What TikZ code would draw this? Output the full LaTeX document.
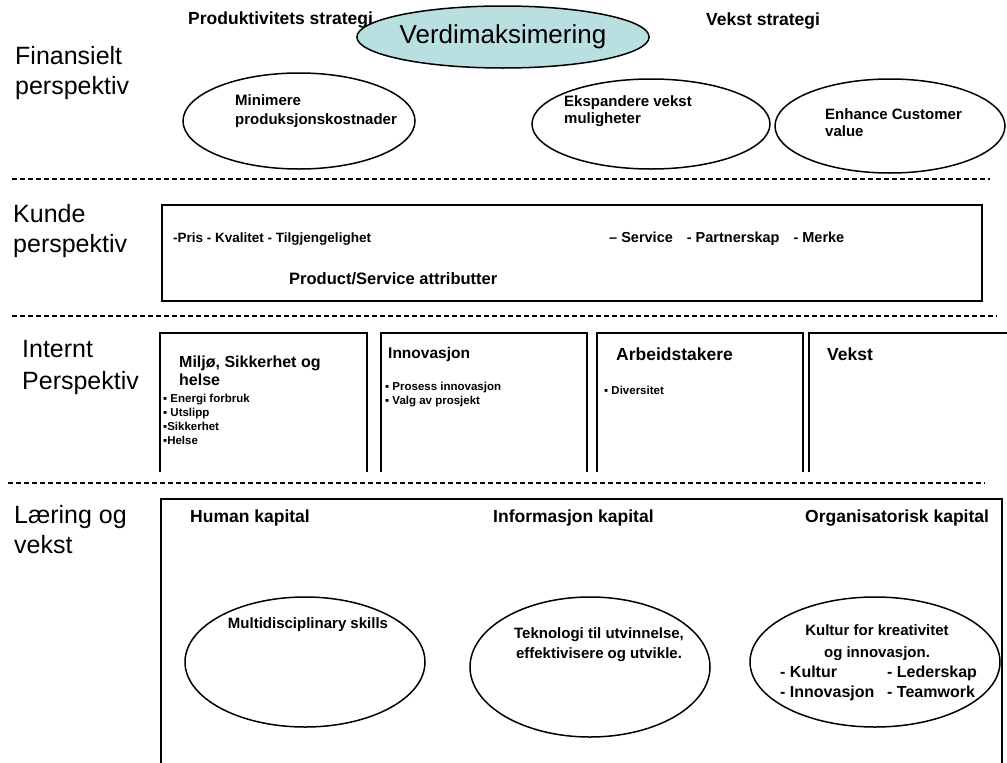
\documentclass[tikz,border=0pt]{standalone}
\usepackage{fontspec}
\setmainfont{Liberation Sans}
\usetikzlibrary{shapes.geometric}
\definecolor{valuefill}{RGB}{185,223,225}

\tikzset{
  persp/.style={anchor=base west, inner sep=0, font=\fontsize{25}{30}\selectfont},
  strat/.style={anchor=base west, inner sep=0, font=\bfseries\fontsize{17.5}{21}\selectfont},
  goal/.style={draw, line width=1.5pt, ellipse, inner sep=0},
  goaltext/.style={anchor=base west, inner sep=0, font=\bfseries\fontsize{15}{18}\selectfont},
  listtext/.style={anchor=base west, inner sep=0, font=\bfseries\fontsize{16}{19}\selectfont},
  attr/.style={anchor=base west, inner sep=0, font=\bfseries\fontsize{14.5}{17}\selectfont},
  boxhead/.style={anchor=base west, inner sep=0, font=\bfseries\fontsize{17.5}{21}\selectfont},
  bullet/.style={anchor=base west, inner sep=0, font=\bfseries\fontsize{11.5}{13}\selectfont},
  divider/.style={line width=1.5pt, dash pattern=on 5pt off 3pt},
  frame/.style={line width=2pt},
}

\begin{document}
\begin{tikzpicture}[x=1pt,y=-1pt]
\useasboundingbox (0,0) rectangle (1007,763);

% ---------- Financial perspective ----------
\node[persp] (finA) at (15,64) {Finansielt};
\node[persp] (finB) at (15,94) {perspektiv};
\node[strat] (prodstrat) at (188,24) {Produktivitets strategi};
\node[strat] (vekststrat) at (706,25) {Vekst strategi};
\node[goal, fill=valuefill, minimum width=274pt, minimum height=62pt,
      font=\fontsize{26}{30}\selectfont] (verdi) at (503,37) {Verdimaksimering};

\node[goal, minimum width=232pt, minimum height=96pt] (minim) at (299,121) {};
\node[goaltext] (minimA) at (235,105) {Minimere};
\node[goaltext] (minimB) at (235,124) {produksjonskostnader};

\node[goal, minimum width=238pt, minimum height=90pt] (ekspand) at (651,124) {};
\node[goaltext] (ekspandA) at (564,106) {Ekspandere vekst};
\node[goaltext] (ekspandB) at (564,123) {muligheter};

\node[goal, minimum width=230pt, minimum height=94pt] (enhance) at (890,126) {};
\node[goaltext] (enhanceA) at (825,119) {Enhance Customer};
\node[goaltext] (enhanceB) at (825,136) {value};

\coordinate (d1a) at (12,179);
\coordinate (d1b) at (990,179);
\draw[divider] (d1a) -- (d1b);

% ---------- Customer perspective ----------
\node[persp] (kundeA) at (13,222) {Kunde};
\node[persp] (kundeB) at (13,252) {perspektiv};
\node[draw, frame, anchor=north west, inner sep=0,
      minimum width=820pt, minimum height=96pt] (kundebox) at (161,204) {};
\node[attr, font=\bfseries\fontsize{13.5}{16}\selectfont] (attrA) at (173,242) {-Pris - Kvalitet - Tilgjengelighet};
\node[attr] (attrB) at (609,242) {– Service\hspace{14pt}- Partnerskap\hspace{14pt}- Merke};
\node[attr, font=\bfseries\fontsize{16.5}{19}\selectfont] (attrC) at (289,284) {Product/Service attributter};

\coordinate (d2a) at (12,316);
\coordinate (d2b) at (997,316);
\draw[divider] (d2a) -- (d2b);

% ---------- Internal perspective ----------
\node[persp] (intA) at (22,357) {Internt};
\node[persp] (intB) at (22,389) {Perspektiv};

\draw[frame] (160,472) |- (367,333) -- (367,472);
\draw[frame] (381,472) |- (587,333) -- (587,472);
\draw[frame] (597,472) |- (803,333) -- (803,472);
\draw[frame] (809,472) |- (1010,333);

\node[anchor=base west, inner sep=0, font=\bfseries\fontsize{16}{19}\selectfont] (hmsA) at (179,367) {Miljø, Sikkerhet og};
\node[anchor=base west, inner sep=0, font=\bfseries\fontsize{16}{19}\selectfont] (hmsB) at (179,385) {helse};
\node[bullet] (hms1) at (163,402) {▪ Energi forbruk};
\node[bullet] (hms2) at (163,416) {▪ Utslipp};
\node[bullet] (hms3) at (163,430) {▪Sikkerhet};
\node[bullet] (hms4) at (163,444) {▪Helse};

\node[anchor=base west, inner sep=0, font=\bfseries\fontsize{15.5}{19}\selectfont] (innov) at (388,358) {Innovasjon};
\node[bullet] (innov1) at (385,390) {▪ Prosess innovasjon};
\node[bullet] (innov2) at (385,404) {▪ Valg av prosjekt};

\node[boxhead] (arbeid) at (616,360) {Arbeidstakere};
\node[bullet] (arbeid1) at (604,394) {▪ Diversitet};

\node[boxhead] (vekst) at (827,360) {Vekst};

\coordinate (d3a) at (8,483);
\coordinate (d3b) at (985,483);
\draw[divider] (d3a) -- (d3b);

% ---------- Learning and growth ----------
\node[persp] (laerA) at (14,523) {Læring og};
\node[persp] (laerB) at (14,553) {vekst};
\draw[frame] (161,770) |- (1002,499) -- (1002,770);

\node[boxhead] (human) at (190,522) {Human kapital};
\node[boxhead] (info) at (493,522) {Informasjon kapital};
\node[boxhead] (org) at (805,522) {Organisatorisk kapital};

\node[goal, minimum width=240pt, minimum height=130pt] (multi) at (305,662) {};
\node[goaltext, anchor=base] (multiT) at (308,628) {Multidisciplinary skills};

\node[goal, minimum width=240pt, minimum height=140pt] (tekn) at (590,667) {};
\node[goaltext, anchor=base] (teknA) at (599,638) {Teknologi til utvinnelse,};
\node[goaltext, anchor=base] (teknB) at (599,658) {effektivisere og utvikle.};

\node[goal, minimum width=250pt, minimum height=130pt] (kultur) at (875,662) {};
\node[goaltext, anchor=base] (kulturA) at (877,635) {Kultur for kreativitet};
\node[goaltext, anchor=base] (kulturB) at (877,657) {og innovasjon.};
\node[listtext] (kulturC) at (780,677) {- Kultur};
\node[listtext] (kulturD) at (887,677) {- Lederskap};
\node[listtext] (kulturE) at (780,697) {- Innovasjon};
\node[listtext] (kulturF) at (887,697) {- Teamwork};
\end{tikzpicture}
\end{document}
